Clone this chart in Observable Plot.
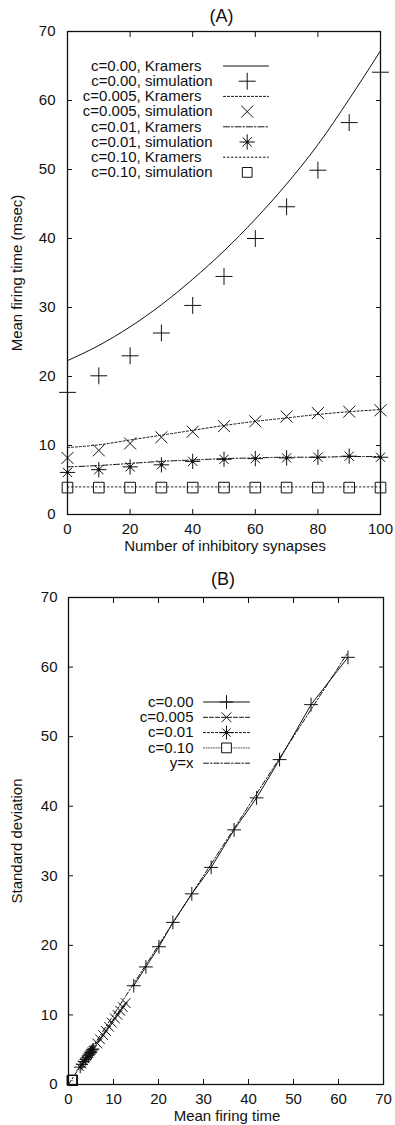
<!DOCTYPE html>
<html>
<head>
<meta charset="utf-8">
<script src="https://cdn.jsdelivr.net/npm/d3@7"></script>
<script src="https://cdn.jsdelivr.net/npm/@observablehq/plot@0.6"></script>
<style>
  body { margin: 0; background: #fff; }
  #chart svg { display: block; }
</style>
</head>
<body>
<div id="chart"></div>
<script>
// ---- Panel A: mean firing time vs number of inhibitory synapses ----
const synapses = [0, 10, 20, 30, 40, 50, 60, 70, 80, 90, 100];
const kramers000 = [22.3, 24.5, 27.2, 30.4, 34.1, 38.2, 42.8, 47.9, 53.6, 60.2, 67.2];
const sim000     = [17.7, 20.1, 23.0, 26.3, 30.3, 34.5, 40.0, 44.6, 49.9, 56.8, 64.1];
const kramers005 = [9.7, 10.1, 10.8, 11.5, 12.2, 12.9, 13.5, 14.0, 14.5, 14.9, 15.2];
const sim005     = [8.2, 9.3, 10.3, 11.2, 12.0, 12.8, 13.5, 14.2, 14.7, 14.9, 15.1];
const kramers01  = [6.9, 7.1, 7.4, 7.7, 7.9, 8.1, 8.2, 8.3, 8.3, 8.4, 8.4];
const sim01      = [6.1, 6.5, 6.9, 7.2, 7.7, 8.0, 8.1, 8.2, 8.3, 8.45, 8.3];
const kramers10  = [4.0, 4.0, 4.0, 4.0, 4.0, 4.0, 4.0, 4.0, 4.0, 4.0, 4.0];
const sim10      = [3.9, 3.9, 3.9, 3.9, 3.9, 3.9, 3.9, 3.9, 3.9, 3.9, 3.9];
const ticksA_x = [0, 20, 40, 60, 80, 100];
const ticksA_y = [0, 10, 20, 30, 40, 50, 60, 70];
const legendA = [
  "c=0.00, Kramers", "c=0.00, simulation",
  "c=0.005, Kramers", "c=0.005, simulation",
  "c=0.01, Kramers", "c=0.01, simulation",
  "c=0.10, Kramers", "c=0.10, simulation"
];

// ---- Panel B: standard deviation vs mean firing time ----
const b000mean = [14.5, 17.2, 20.1, 23.2, 27.4, 31.7, 36.8, 41.8, 46.9, 53.9, 62.1];
const b000sd   = [14.2, 16.9, 19.8, 23.3, 27.4, 31.2, 36.6, 41.2, 46.7, 54.6, 61.4];
const b005mean = [6.4, 7.0, 7.7, 8.3, 9.0, 9.6, 10.3, 10.9, 11.5, 12.1, 12.7];
const b005sd   = [5.9, 6.5, 7.1, 7.7, 8.3, 8.9, 9.5, 10.0, 10.6, 11.1, 11.7];
const b01mean  = [2.6, 3.0, 3.4, 3.8, 4.1, 4.4, 4.7, 4.9, 5.1, 5.3, 5.5];
const b01sd    = [2.5, 2.9, 3.3, 3.6, 3.9, 4.2, 4.4, 4.6, 4.8, 5.0, 5.1];
const b10mean  = [0.8, 0.8, 0.9, 0.9, 0.9, 0.9, 0.9, 0.9, 0.9, 0.9, 0.9];
const b10sd    = [0.6, 0.6, 0.6, 0.6, 0.6, 0.6, 0.6, 0.6, 0.6, 0.6, 0.6];
const identity = [0, 62];
const ticksB = [0, 10, 20, 30, 40, 50, 60, 70];
const legendB = ["c=0.00", "c=0.005", "c=0.01", "c=0.10", "y=x"];

const FONT = "'Liberation Sans', Arial, Helvetica, sans-serif";
const INK = "#111";

// helpers
const pts = (xs, ys) => xs.map((x, i) => ({x, y: ys[i]}));
const hseg = {draw(ctx, l) { ctx.moveTo(0, 0); ctx.lineTo(0, -l); }};
const label = (s, o) => Plot.text([s], {textAnchor: "middle", lineAnchor: "middle", fontSize: 15, fill: INK, ...o});
const mark = (data, o) => Plot.dot(data, {stroke: INK, strokeWidth: 1, fill: "none", ...o});

function boxAxes(xt, yt, pad) {
  const inward = -5;
  return [
    Plot.axisX({anchor: "bottom", ticks: xt, tickSize: 0, tickPadding: pad.x, label: null, fontSize: 15}),
    Plot.axisY({anchor: "left", ticks: yt, tickSize: 0, tickPadding: pad.y, label: null, fontSize: 15}),
    Plot.axisX({anchor: "bottom", ticks: xt, tickSize: inward, tickFormat: () => "", label: null}),
    Plot.axisX({anchor: "top", ticks: xt, tickSize: inward, tickFormat: () => "", label: null}),
    Plot.axisY({anchor: "left", ticks: yt, tickSize: inward, tickFormat: () => "", label: null}),
    Plot.axisY({anchor: "right", ticks: yt, tickSize: inward, tickFormat: () => "", label: null}),
    Plot.frame({stroke: INK, strokeWidth: 1.3})
  ];
}

// star marker: plus overlaid with times and a filled centre
function star(data, opts, r) {
  return [
    mark(data, {...opts, symbol: "plus", r: r}),
    mark(data, {...opts, symbol: "times", r: r * 0.85}),
    Plot.dot(data, {...opts, r: 1.6, fill: INK, stroke: null})
  ];
}

// ---------------- Panel A ----------------
const xy = {x: "x", y: "y"};
const styleA = [
  {dash: null,        symbol: "plus"},
  {dash: "2,2",       symbol: "times"},
  {dash: "6,2,1.5,2", symbol: "star"},
  {dash: "1.5,2.5",   symbol: "square"}
];
const kramersA = [kramers000, kramers005, kramers01, kramers10];

const legendMarksA = [];
legendA.forEach((text, i) => {
  const dy = 34.5 + i * 15.2;
  const series = styleA[Math.floor(i / 2)];
  const isSim = i % 2 === 1;
  legendMarksA.push(label(text, {frameAnchor: "top-left", dx: isSim ? 145 : 134, dy, textAnchor: "end"}));
  if (!isSim) {
    legendMarksA.push(Plot.vector([0], {frameAnchor: "top-left", dx: 156, dy, length: 45, rotate: 90, anchor: "start", shape: hseg,
      stroke: INK, strokeWidth: 1, strokeDasharray: series.dash}));
  } else {
    const o = {frameAnchor: "top-left", dx: 179.7, dy};
    if (series.symbol === "star") legendMarksA.push(...star([0], o, 5));
    else legendMarksA.push(mark([0], {...o, symbol: series.symbol, r: 5.5}));
  }
});

const marksA = [
  ...boxAxes(ticksA_x, ticksA_y, {x: 9, y: 12}),
  ...kramersA.map((k, i) => Plot.line(pts(synapses, k), {...xy, curve: "monotone-x", stroke: INK, strokeWidth: 1, strokeDasharray: styleA[i].dash})),
  mark(pts(synapses, sim000), {...xy, symbol: "plus", r: 5.5}),
  mark(pts(synapses, sim005), {...xy, symbol: "times", r: 5.5}),
  ...star(pts(synapses, sim01), xy, 5),
  mark(pts(synapses, sim10), {...xy, symbol: "square", r: 6}),
  ...legendMarksA,
  label("(A)", {frameAnchor: "top", dx: -2.5, dy: -15, fontSize: 18}),
  label("Number of inhibitory synapses", {frameAnchor: "bottom", dx: 1, dy: 32}),
  label("Mean firing time (msec)", {frameAnchor: "left", dx: -50, rotate: -90})
];

const plotA = Plot.plot({
  width: 395, height: 560,
  marginTop: 31, marginBottom: 46, marginLeft: 67, marginRight: 15,
  x: {domain: [0, 100]},
  y: {domain: [0, 70]},
  style: {fontFamily: FONT, fontSize: "15px", color: INK, background: "#fff"},
  marks: marksA
});

// ---------------- Panel B ----------------
const styleB = [
  {dash: null,        symbol: "plus",   stroke: INK},
  {dash: "4,2",       symbol: "times",  stroke: INK},
  {dash: "2,2",       symbol: "star",   stroke: INK},
  {dash: "1,1.5",     symbol: "square", stroke: "#555"},
  {dash: "5,2,1.5,2", symbol: null,     stroke: INK}
];

const legendMarksB = [];
legendB.forEach((text, i) => {
  const dy = 104.5 + i * 15.3;
  const s = styleB[i];
  legendMarksB.push(label(text, {frameAnchor: "top-left", dx: 125, dy, textAnchor: "end"}));
  legendMarksB.push(Plot.vector([0], {frameAnchor: "top-left", dx: 135, dy, length: 46, rotate: 90, anchor: "start", shape: hseg,
    stroke: s.stroke, strokeWidth: 1, strokeDasharray: s.dash}));
  const o = {frameAnchor: "top-left", dx: 158, dy};
  if (s.symbol === "star") legendMarksB.push(...star([0], o, 4.5));
  else if (s.symbol) legendMarksB.push(mark([0], {...o, symbol: s.symbol, r: s.symbol === "square" ? 5.5 : 4.5, fill: s.symbol === "square" ? "#fff" : "none"}));
});

const marksB = [
  ...boxAxes(ticksB, ticksB, {x: 9, y: 11}),
  Plot.line(pts(identity, identity), {...xy, stroke: INK, strokeWidth: 1, strokeDasharray: styleB[4].dash}),
  Plot.line(pts(b10mean, b10sd), {...xy, stroke: "#555", strokeWidth: 1, strokeDasharray: styleB[3].dash}),
  Plot.line(pts(b01mean, b01sd), {...xy, stroke: INK, strokeWidth: 1, strokeDasharray: styleB[2].dash}),
  Plot.line(pts(b005mean, b005sd), {...xy, stroke: INK, strokeWidth: 1, strokeDasharray: styleB[1].dash}),
  Plot.line(pts(b000mean, b000sd), {...xy, stroke: INK, strokeWidth: 1}),
  mark(pts(b000mean, b000sd), {...xy, symbol: "plus", r: 4.5}),
  mark(pts(b005mean, b005sd), {...xy, symbol: "times", r: 4.5}),
  ...star(pts(b01mean, b01sd), xy, 4),
  mark(pts(b10mean, b10sd), {...xy, symbol: "square", r: 5.5}),
  ...legendMarksB,
  label("(B)", {frameAnchor: "top", dx: -3, dy: -18.5, fontSize: 18}),
  label("Mean firing time", {frameAnchor: "bottom", dx: 1, dy: 32}),
  label("Standard deviation", {frameAnchor: "left", dx: -51, rotate: -90})
];

const plotB = Plot.plot({
  width: 395, height: 565,
  marginTop: 37, marginBottom: 41, marginLeft: 68, marginRight: 12,
  x: {domain: [0, 70]},
  y: {domain: [0, 70]},
  style: {fontFamily: FONT, fontSize: "15px", color: INK, background: "#fff"},
  marks: marksB
});

document.getElementById("chart").append(plotA, plotB);
</script>
</body>
</html>
